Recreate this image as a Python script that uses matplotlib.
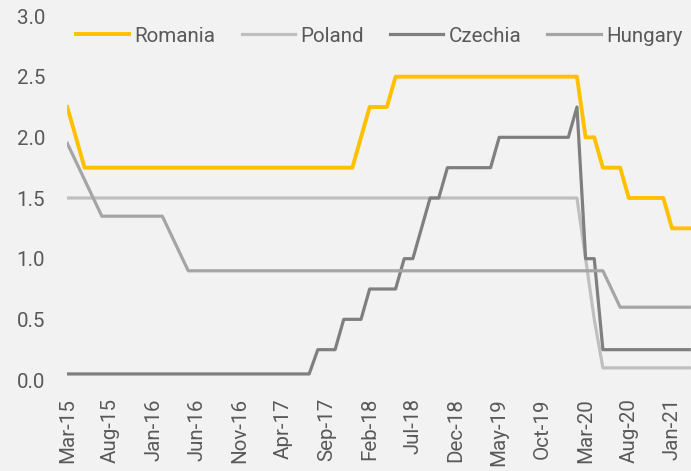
import numpy as np
import matplotlib
matplotlib.use('Agg')
import matplotlib.pyplot as plt

# policy rates, monthly from Mar-15 to Mar-21
romania = [2.25, 2.0] + [1.75] * 32 + [2.0, 2.25, 2.25, 2.25] + [2.5] * 22 \
    + [2.0, 2.0, 1.75, 1.75, 1.75] + [1.5] * 5 + [1.25] * 3
poland = [1.5] * 60 + [1.0, 0.5] + [0.1] * 11
czechia = [0.05] * 29 + [0.25] * 3 + [0.5] * 3 + [0.75] * 4 + [1.0, 1.0, 1.25, 1.5, 1.5] \
    + [1.75] * 6 + [2.0] * 9 + [2.25, 1.0, 1.0] + [0.25] * 11
hungary = [1.95, 1.80, 1.65, 1.50] + [1.35] * 8 + [1.20, 1.05] + [0.9] * 49 + [0.75] + [0.6] * 9

tick_labels = ['Mar-15', 'Aug-15', 'Jan-16', 'Jun-16', 'Nov-16', 'Apr-17', 'Sep-17', 'Feb-18',
               'Jul-18', 'Dec-18', 'May-19', 'Oct-19', 'Mar-20', 'Aug-20', 'Jan-21']

plt.rcParams['font.family'] = ['Roboto', 'DejaVu Sans']
bg = '#F2F2F2'
txt = '#595959'
fs = 14.8

fig = plt.figure(figsize=(6.91, 4.71), dpi=100, facecolor=bg)
ax = fig.add_axes([67.3 / 691, 1 - 380 / 471, 1 - 67.3 / 691, (380 - 16) / 471])
ax.set_facecolor(bg)

x = np.arange(len(romania))
ax.plot(x, romania, color='#FFC000', lw=2.8, label='Romania', solid_joinstyle='round')
ax.plot(x, poland, color='#BFBFBF', lw=2.3, label='Poland', solid_joinstyle='round')
ax.plot(x, czechia, color='#7F7F7F', lw=2.3, label='Czechia', solid_joinstyle='round')
ax.plot(x, hungary, color='#A5A5A5', lw=2.3, label='Hungary', solid_joinstyle='round')

ax.set_xlim(0, 72.2)
ax.set_ylim(0, 3.0)
ax.set_yticks(np.arange(0, 3.01, 0.5))
ax.set_yticklabels(['%.1f' % v for v in np.arange(0, 3.01, 0.5)])
ax.set_xticks(x[::5][:len(tick_labels)])
ax.set_xticklabels(tick_labels, rotation=90)
ax.tick_params(axis='y', length=0, pad=16, labelsize=fs, labelcolor=txt)
ax.tick_params(axis='x', length=0, pad=13, labelsize=fs, labelcolor=txt)
for s in ax.spines.values():
    s.set_visible(False)

leg = ax.legend(loc='center left', bbox_to_anchor=(76 / 691, 1 - 36 / 471),
                bbox_transform=fig.transFigure, ncol=4, frameon=False,
                fontsize=fs, handlelength=2.6, handletextpad=0.25, columnspacing=1.27,
                borderpad=0, borderaxespad=0)
for t in leg.get_texts():
    t.set_color(txt)

fig.savefig('out.png', dpi=100, facecolor=bg)
